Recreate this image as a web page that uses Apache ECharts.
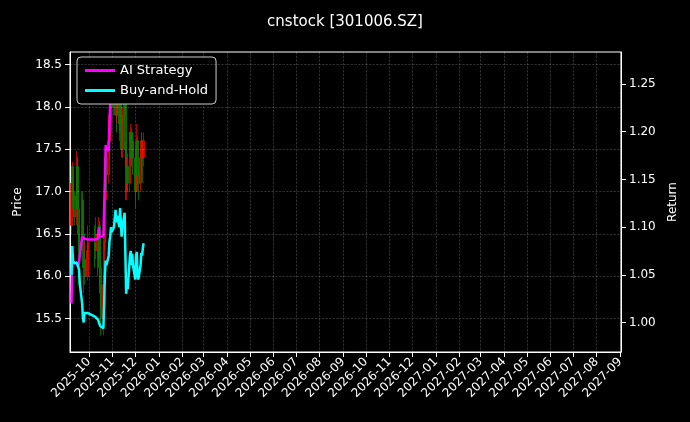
<!DOCTYPE html>
<html>
<head>
<meta charset="utf-8">
<script src="https://cdn.jsdelivr.net/npm/echarts@6/dist/echarts.min.js"></script>
<style>
html,body{margin:0;padding:0;background:#000;}
#main{width:690px;height:422px;}
</style>
</head>
<body>
<div id="main"></div>
<script>
var dates = ['2025-09-08','2025-09-09','2025-09-10','2025-09-11','2025-09-12',
    '2025-09-15','2025-09-16','2025-09-17','2025-09-18','2025-09-19',
    '2025-09-22','2025-09-23','2025-09-24','2025-09-25','2025-09-26',
    '2025-09-29','2025-09-30','2025-10-09','2025-10-10',
    '2025-10-13','2025-10-14','2025-10-15','2025-10-16','2025-10-17',
    '2025-10-20','2025-10-21','2025-10-22','2025-10-23','2025-10-24',
    '2025-10-27','2025-10-28','2025-10-29','2025-10-30','2025-10-31',
    '2025-11-03','2025-11-04','2025-11-05','2025-11-06','2025-11-07',
    '2025-11-10','2025-11-11','2025-11-12','2025-11-13','2025-11-14',
    '2025-11-17','2025-11-18','2025-11-19','2025-11-20','2025-11-21',
    '2025-11-24','2025-11-25','2025-11-26','2025-11-27','2025-11-28',
    '2025-12-01','2025-12-02','2025-12-03','2025-12-04','2025-12-05',
    '2025-12-08','2025-12-09','2025-12-10','2025-12-11','2025-12-12'];
// [open, close, low, high]
var ohlc = [
    [16.6,17.1,16.5,17.2],[17.1,17.3,16.9,17.35],[17.2,16.9,16.8,17.3],[16.9,16.95,16.7,17.1],[16.95,16.7,16.6,17.0],
    [16.7,17.4,16.6,17.48],[17.3,16.8,16.7,17.4],[16.8,16.5,16.4,16.9],[16.5,16.3,15.9,16.6],[16.3,16.4,16.2,16.5],
    [16.4,16.9,16.3,17.0],[16.9,16.5,16.4,17.0],[16.5,16.1,15.8,16.6],[16.1,16.2,16.0,16.4],[16.2,16.0,15.9,16.3],
    [16.0,16.3,15.95,16.4],[16.3,16.4,16.2,16.6],[16.4,16.3,16.1,16.6],[16.3,16.5,16.2,16.7],
    [16.5,16.2,16.0,16.55],[16.2,16.6,16.1,16.7],[16.6,16.1,15.9,16.65],[16.1,15.8,15.6,16.2],[15.8,15.5,15.3,15.9],
    [15.5,15.9,15.3,16.0],[15.9,16.4,15.8,16.5],[16.4,16.9,16.3,17.0],[16.9,17.4,16.8,17.5],[17.4,17.2,17.0,17.5],
    [17.2,17.6,17.1,17.7],[17.6,17.9,17.4,18.0],[17.9,17.7,17.5,18.1],[17.7,18.1,17.6,18.2],[18.1,18.0,17.8,18.3],
    [18.0,18.3,17.9,18.45],[18.3,18.1,17.9,18.5],[18.1,18.4,18.0,18.5],[18.4,17.9,17.7,18.45],[17.9,18.2,17.8,18.3],
    [18.2,17.8,17.6,18.3],[17.8,18.3,17.7,18.4],[18.3,17.9,17.7,18.35],[17.9,17.5,17.4,18.0],[17.5,17.9,17.4,18.0],
    [17.9,18.1,17.8,18.2],[18.1,17.5,17.3,18.15],[17.5,17.0,16.9,17.6],[17.0,17.3,16.9,17.4],[17.3,17.1,17.0,17.45],
    [17.1,17.6,17.0,17.7],[17.6,17.7,17.4,17.8],[17.7,17.4,17.3,17.75],[17.4,17.6,17.3,17.7],[17.6,17.4,17.2,17.7],
    [17.4,17.0,16.8,17.5],[17.0,17.5,16.9,17.6],[17.5,17.6,17.4,17.8],[17.6,17.2,17.0,17.65],[17.2,17.1,16.9,17.3],
    [17.1,17.4,17.0,17.5],[17.4,17.6,17.3,17.7],[17.6,17.5,17.2,17.7],[17.5,17.4,17.1,17.6],[17.4,17.6,17.3,17.7]];
var aiReturn = [1.02,1.065,1.066,1.063,1.062, 1.062,1.06,1.058,1.058,1.06,
    1.09,1.088,1.088,1.088,1.087, 1.087,1.087,1.087,1.087,
    1.088,1.10,1.09,1.09,1.09, 1.09,1.12,1.15,1.186,1.183,
    1.18,1.21,1.23,1.245,1.26, 1.27,1.272,1.275,1.275,1.275,
    1.275,1.275,1.275,1.275,1.275, 1.275,1.275,1.275,1.275,1.275,
    1.275,1.275,1.275,1.275,1.275, 1.275,1.275,1.275,1.275,1.275,
    1.275,1.275,1.275,1.275,1.275];
var bhReturn = [1.05,1.08,1.065,1.062,1.06, 1.063,1.06,1.058,1.055,1.04,
    1.02,1.005,1.0,1.01,1.012, 1.01,1.008,1.006,1.005,
    1.003,1.0,0.998,0.996,0.995, 0.994,1.02,1.05,1.065,1.06,
    1.07,1.085,1.09,1.10,1.095, 1.10,1.11,1.118,1.105,1.112,
    1.10,1.12,1.105,1.09,1.10, 1.115,1.07,1.03,1.04,1.035,
    1.07,1.075,1.06,1.072,1.06, 1.045,1.07,1.074,1.05,1.045,
    1.06,1.073,1.07,1.078,1.083];
var priceTicks = [15.5, 16.0, 16.5, 17.0, 17.5, 18.0, 18.5];
var returnTicks = [1.00, 1.05, 1.10, 1.15, 1.20, 1.25];

var candleData = dates.map(function (d, i) { return [d].concat(ohlc[i]); });
var aiData = dates.map(function (d, i) { return [d, aiReturn[i]]; });
var bhData = dates.map(function (d, i) { return [d, bhReturn[i]]; });

var myChart = echarts.init(document.getElementById('main'));
var DAY = 24 * 3600 * 1000;
var gridLine = {color: 'rgba(255,255,255,0.3)', type: 'dashed', width: 0.6};
var option = {
    backgroundColor: '#000',
    textStyle: {fontFamily: 'DejaVu Sans'},
    animation: false,
    title: {
        text: 'cnstock [301006.SZ]',
        left: 'center', top: 10,
        textStyle: {color: '#fff', fontSize: 15, fontWeight: 'normal'}
    },
    legend: {
        orient: 'vertical',
        left: 77, top: 57,
        padding: [7, 8],
        itemGap: 7,
        itemWidth: 30, itemHeight: 3,
        backgroundColor: '#000',
        borderColor: '#ccc', borderWidth: 1, borderRadius: 4,
        textStyle: {color: '#fff', fontSize: 13},
        data: [{name: 'AI Strategy', icon: 'rect'}, {name: 'Buy-and-Hold', icon: 'rect'}]
    },
    grid: {left: 70, right: 69, top: 52, bottom: 70, show: true, borderColor: '#fff', borderWidth: 1},
    xAxis: {
        type: 'time',
        min: '2025-09-06', max: '2027-09-02',
        minInterval: 28 * DAY, maxInterval: 31 * DAY,
        axisLine: {lineStyle: {color: '#fff'}},
        axisTick: {show: true, lineStyle: {color: '#fff'}},
        axisLabel: {color: '#fff', fontSize: 12, rotate: 45, formatter: '{yyyy}-{MM}',
            showMinLabel: false, showMaxLabel: false, hideOverlap: false},
        splitLine: {show: true, lineStyle: gridLine}
    },
    yAxis: [{
        type: 'value', position: 'left',
        min: 15.104, max: 18.65,
        name: 'Price', nameLocation: 'middle', nameGap: 46,
        nameTextStyle: {color: '#fff', fontSize: 12},
        axisLine: {show: true, lineStyle: {color: '#fff'}},
        axisTick: {show: true, customValues: priceTicks, lineStyle: {color: '#fff'}},
        axisLabel: {color: '#fff', fontSize: 12, customValues: priceTicks,
            formatter: function (v) { return v.toFixed(1); }},
        splitLine: {show: false}
    }, {
        type: 'value', position: 'right',
        min: 0.969, max: 1.2836,
        name: 'Return', nameLocation: 'middle', nameGap: 46,
        nameTextStyle: {color: '#fff', fontSize: 12},
        axisLine: {show: true, lineStyle: {color: '#fff'}},
        axisTick: {show: true, customValues: returnTicks, lineStyle: {color: '#fff'}},
        axisLabel: {color: '#fff', fontSize: 12, customValues: returnTicks,
            formatter: function (v) { return v.toFixed(2); }},
        splitLine: {show: false}
    }],
    series: [{
        name: 'Price',
        type: 'candlestick',
        yAxisIndex: 0,
        barMaxWidth: 2,
        itemStyle: {
            color: 'rgba(255,0,0,0.7)', color0: 'rgba(0,128,0,0.8)',
            borderColor: 'rgba(255,0,0,0.7)', borderColor0: 'rgba(0,128,0,0.8)', borderWidth: 1
        },
        markLine: {
            silent: true, symbol: 'none', label: {show: false},
            lineStyle: gridLine,
            data: priceTicks.map(function (v) { return {yAxis: v}; })
        },
        data: candleData
    }, {
        name: 'AI Strategy',
        type: 'line',
        yAxisIndex: 1,
        showSymbol: false,
        color: '#ff00ff',
        lineStyle: {width: 2.5},
        data: aiData
    }, {
        name: 'Buy-and-Hold',
        type: 'line',
        yAxisIndex: 1,
        showSymbol: false,
        color: '#00ffff',
        lineStyle: {width: 2.5},
        data: bhData
    }]
};
myChart.setOption(option);
</script>
</body>
</html>
